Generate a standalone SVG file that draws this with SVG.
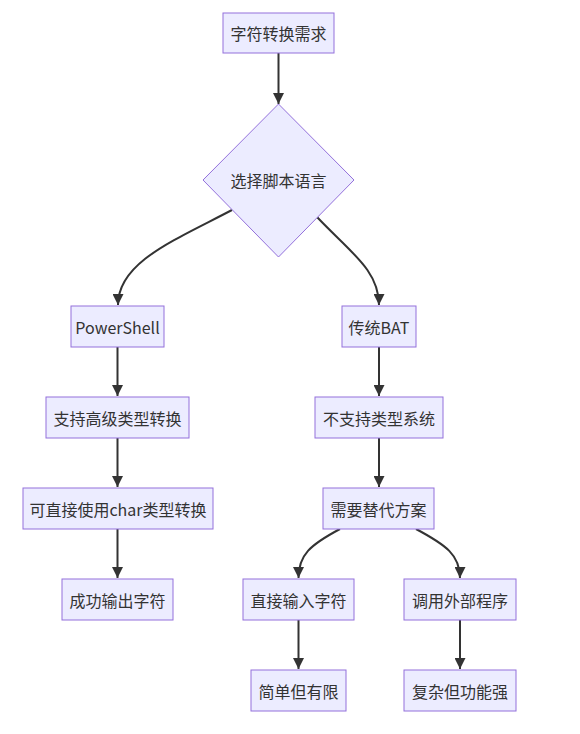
<svg xmlns="http://www.w3.org/2000/svg" width="580" height="734" viewBox="0 0 580 734">
<defs>
<marker id="arr" viewBox="0 0 10 10" refX="10" refY="5" markerWidth="11" markerHeight="11" markerUnits="userSpaceOnUse" orient="auto">
<path d="M0,0 L10,5 L0,10 z" fill="#333333"/>
</marker>
</defs>
<style>
.n rect, .n polygon { fill: #ECECFF; stroke: #9370DB; stroke-width: 1; }
.n text { font-family: "Noto Sans CJK SC", "Noto Sans", sans-serif; font-size: 16px; fill: #333333; text-anchor: middle; dominant-baseline: central; }
.e path { fill: none; stroke: #333333; stroke-width: 2; marker-end: url(#arr); }
</style>
<rect width="580" height="734" fill="#ffffff"/>
<g class="e" id="edges">
<path d="M278.5,53 L278.5,104"/>
<path d="M232,210 C175,240 118,262 118,305"/>
<path d="M317,217 C350,252 379,270 379,305"/>
<path d="M117.5,347 L117.5,396"/>
<path d="M117.5,438 L117.5,487"/>
<path d="M117.5,529 L117.5,578"/>
<path d="M379,347 L379,396"/>
<path d="M379,438 L379,487"/>
<path d="M340,529 C310,545 298.5,555 298.5,578"/>
<path d="M416,529 C446,545 460,555 460,578"/>
<path d="M298.5,620 L298.5,669"/>
<path d="M460,620 L460,669"/>
</g>
<g class="n" id="A"><rect x="223" y="13" width="111" height="40"/><text x="278.5" y="33">字符转换需求</text></g>
<g class="n" id="B"><polygon points="278.5,104 354,180 278.5,257 203,180"/><text x="278.5" y="180">选择脚本语言</text></g>
<g class="n" id="C"><rect x="71" y="306" width="93" height="41"/><text x="117.5" y="326.5">PowerShell</text></g>
<g class="n" id="D"><rect x="342" y="306" width="74" height="41"/><text x="379" y="326.5">传统BAT</text></g>
<g class="n" id="E"><rect x="46" y="397" width="143" height="41"/><text x="117.5" y="417.5">支持高级类型转换</text></g>
<g class="n" id="F"><rect x="315" y="397" width="128" height="41"/><text x="379" y="417.5">不支持类型系统</text></g>
<g class="n" id="G"><rect x="23" y="488" width="190" height="41"/><text x="118" y="508.5">可直接使用char类型转换</text></g>
<g class="n" id="H"><rect x="323" y="488" width="111" height="41"/><text x="378.5" y="508.5">需要替代方案</text></g>
<g class="n" id="I"><rect x="62" y="579" width="111" height="41"/><text x="117.5" y="599.5">成功输出字符</text></g>
<g class="n" id="J"><rect x="243" y="579" width="111" height="41"/><text x="298.5" y="599.5">直接输入字符</text></g>
<g class="n" id="K"><rect x="404" y="579" width="112" height="41"/><text x="460" y="599.5">调用外部程序</text></g>
<g class="n" id="L"><rect x="251" y="670" width="95" height="41"/><text x="298.5" y="690.5">简单但有限</text></g>
<g class="n" id="M"><rect x="404" y="670" width="112" height="41"/><text x="460" y="690.5">复杂但功能强</text></g>
</svg>
